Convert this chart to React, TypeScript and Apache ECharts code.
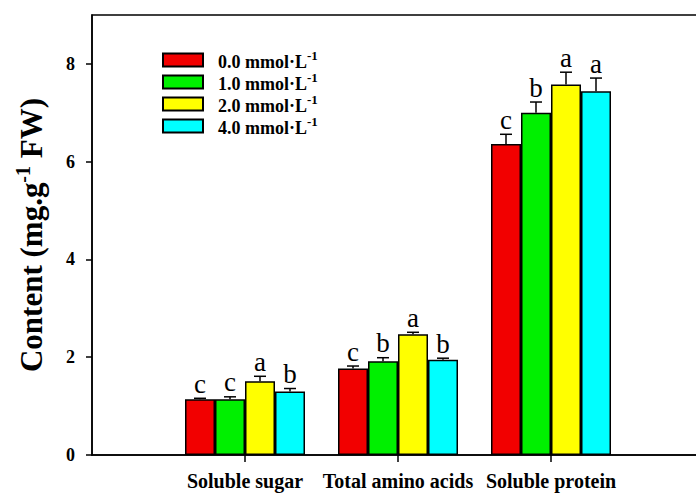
import React, { useEffect, useRef } from "react";
import * as echarts from "echarts";

const categories = ["", "Soluble sugar", "Total amino acids", "Soluble protein", ""];
const seriesNames = ["0.0 mmol·L", "1.0 mmol·L", "2.0 mmol·L", "4.0 mmol·L"];
const seriesColors = ["#f20000", "#00f000", "#ffff00", "#00ffff"];
// values for Soluble sugar, Total amino acids, Soluble protein
const values0 = [1.14, 1.77, 6.36];
const values1 = [1.14, 1.92, 7.0];
const values2 = [1.51, 2.47, 7.58];
const values3 = [1.3, 1.95, 7.44];
const errors0 = [0.02, 0.05, 0.2];
const errors1 = [0.05, 0.07, 0.22];
const errors2 = [0.1, 0.04, 0.25];
const errors3 = [0.06, 0.03, 0.27];
const letters0 = ["c", "c", "c"];
const letters1 = ["c", "b", "b"];
const letters2 = ["a", "a", "a"];
const letters3 = ["b", "b", "a"];
const yTicks = [0, 2, 4, 6, 8];

const allValues = [values0, values1, values2, values3];
const allErrors = [errors0, errors1, errors2, errors3];
const allLetters = [letters0, letters1, letters2, letters3];

const FONT = "'Liberation Serif', 'Times New Roman', serif";
const BAR_W = 30;

export default function App() {
  const ref = useRef<HTMLDivElement>(null);
  useEffect(() => {
    document.body.style.margin = "0";
    const chart = echarts.init(ref.current!, null, { renderer: "svg" });
    const series: any[] = [];
    seriesNames.forEach((name, i) => {
      series.push({
        name,
        type: "bar",
        barWidth: BAR_W,
        barGap: "0%",
        data: ["-", ...allValues[i], "-"],
        itemStyle: { color: seriesColors[i], borderColor: "#000", borderWidth: 1.5 },
      });
    });
    seriesNames.forEach((name, i) => {
      series.push({
        type: "custom",
        name: name + "_err",
        z: 5,
        data: allValues[i].map((v, k) => [k + 1, v, allErrors[i][k], k]),
        renderItem: (params: any, api: any) => {
          const cat = api.value(0);
          const v = api.value(1);
          const e = api.value(2);
          const k = api.value(3);
          const base = api.coord([cat, v]);
          const top = api.coord([cat, v + e]);
          const x = base[0] + (i - 1.5) * BAR_W;
          return {
            type: "group",
            children: [
              { type: "line", shape: { x1: x, y1: base[1], x2: x, y2: top[1] }, style: { stroke: "#000", lineWidth: 1.5 } },
              { type: "line", shape: { x1: x - 6, y1: top[1], x2: x + 6, y2: top[1] }, style: { stroke: "#000", lineWidth: 1.5 } },
              {
                type: "text",
                x: x,
                y: top[1] - 1,
                style: {
                  text: allLetters[i][k],
                  font: `27px ${FONT}`,
                  fill: "#000",
                  textAlign: "center",
                  textVerticalAlign: "bottom",
                },
              },
            ],
          };
        },
      });
    });

    chart.setOption({
      animation: false,
      grid: {
        left: 92,
        top: 15,
        width: 612,
        height: 440,
        outerBoundsMode: "none",
        containLabel: false,
        show: true,
        borderColor: "#000",
        borderWidth: 1.5,
      },
      legend: {
        data: seriesNames,
        orient: "vertical",
        left: 157,
        top: 44,
        itemWidth: 40,
        itemHeight: 13,
        itemGap: 0,
        icon: "rect",
        selectedMode: false,
        formatter: (name: string) => `{a|${name}}{s|-1}`,
        textStyle: {
          rich: {
            a: { fontFamily: FONT, fontWeight: "bold", fontSize: 18, lineHeight: 22, color: "#000", verticalAlign: "bottom", padding: [0, 0, 0, 10] },
            s: { fontFamily: FONT, fontWeight: "bold", fontSize: 13, color: "#000", verticalAlign: "top" },
          },
        },
      },
      xAxis: {
        type: "category",
        data: categories,
        boundaryGap: false,
        axisLine: { lineStyle: { color: "#000", width: 1.5 } },
        axisTick: { interval: (idx: number) => idx >= 1 && idx <= 3, length: 7, lineStyle: { color: "#000", width: 1.5 } },
        axisLabel: { interval: 0, fontFamily: FONT, fontWeight: "bold", fontSize: 20, color: "#000", margin: 16 },
        splitLine: { show: false },
      },
      yAxis: {
        type: "value",
        min: 0,
        max: 9,
        interval: 2,
        name: "{a|Content (mg.g}{s|-1}{a| FW)}",
        nameLocation: "middle",
        nameGap: 45,
        nameRotate: 90,
        nameTextStyle: {
          rich: {
            a: { fontFamily: FONT, fontWeight: "bold", fontSize: 31, lineHeight: 34, color: "#000", verticalAlign: "bottom" },
            s: { fontFamily: FONT, fontWeight: "bold", fontSize: 20, color: "#000", verticalAlign: "top" },
          },
        },
        axisLine: { show: true, lineStyle: { color: "#000", width: 1.5 } },
        axisTick: { show: true, length: 6, customValues: yTicks, lineStyle: { color: "#000", width: 1.5 } },
        axisLabel: { customValues: yTicks, fontFamily: FONT, fontWeight: "bold", fontSize: 18, color: "#000", margin: 17 },
        splitLine: { show: false },
      },
      series,
    });
    return () => chart.dispose();
  }, []);
  return <div ref={ref} style={{ width: 696, height: 495 }} />;
}
